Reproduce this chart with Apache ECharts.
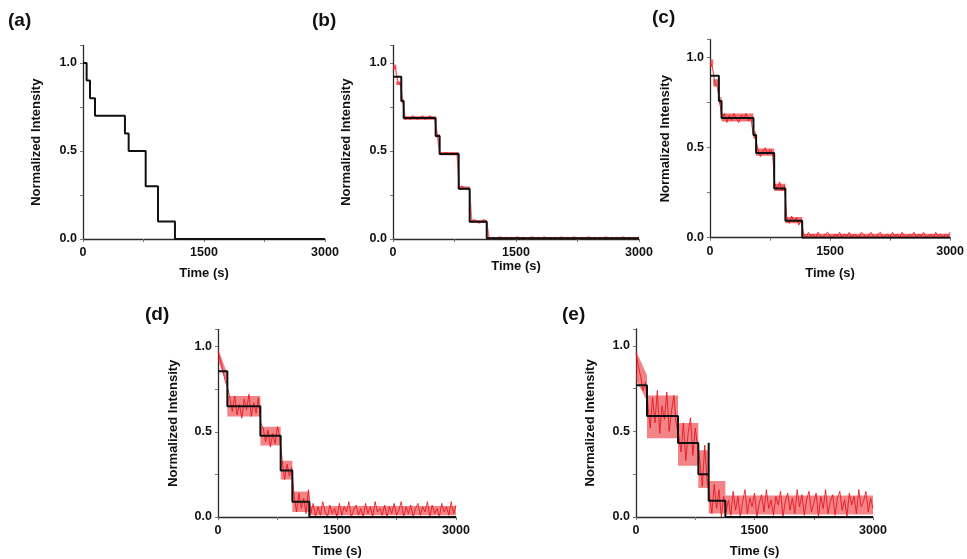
<!DOCTYPE html>
<html><head><meta charset="utf-8">
<script src="https://cdn.jsdelivr.net/npm/echarts@6/dist/echarts.min.js"></script>
<style>html,body{margin:0;padding:0;background:#fff}#c{width:967px;height:559px}</style>
</head><body><div id="c"></div>
<script>
// ---- data ----
const panelLabels = ['(a)', '(b)', '(c)', '(d)', '(e)'];
const xTickLabels = ['0', '1500', '3000'];
const yTickLabels = ['0.0', '0.5', '1.0'];
const xAxisTitle = 'Time (s)';
const yAxisTitle = 'Normalized Intensity';

const sampleTimes = [0,30,60,90,120,150,180,210,240,270,300,330,360,390,420,450,480,510,540,570,600,630,660,690,720,750,780,810,840,870,900,930,960,990,1020,1050,1080,1110,1140,1170,1200,1230,1260,1290,1320,1350,1380,1410,1440,1470,1500,1530,1560,1590,1620,1650,1680,1710,1740,1770,1800,1830,1860,1890,1920,1950,1980,2010,2040,2070,2100,2130,2160,2190,2220,2250,2280,2310,2340,2370,2400,2430,2460,2490,2520,2550,2580,2610,2640,2670,2700,2730,2760,2790,2820,2850,2880,2910,2940,2970,3000];

const traceB = [0.98,0.97,0.89,0.88,0.78,0.68,0.69,0.68,0.70,0.69,0.68,0.69,0.70,0.68,0.69,0.70,0.69,0.68,0.59,0.49,0.48,0.49,0.49,0.48,0.49,0.48,0.49,0.29,0.30,0.29,0.28,0.29,0.10,0.11,0.10,0.09,0.10,0.11,0.10,
0.01,0.00,0.01,0.00,0.01,0.01,0.00,0.01,0.00,0.01,0.00,0.01,0.01,0.00,0.01,0.00,0.00,0.01,0.01,0.00,0.01,0.00,0.01,0.01,0.00,0.01,0.00,0.01,0.00,0.01,0.01,0.00,0.01,0.00,0.01,0.01,0.00,0.00,0.01,0.00,0.01,0.01,0.00,0.01,0.00,0.01,0.00,0.01,0.01,0.00,0.01,0.00,0.01,0.00,0.01,0.01,0.00,0.01,0.00,0.01,0.00,0.01];

const traceC = [0.97,0.95,0.86,0.84,0.76,0.66,0.69,0.64,0.68,0.65,0.69,0.66,0.64,0.68,0.66,0.69,0.65,0.67,0.57,0.55,0.49,0.45,0.48,0.50,0.46,0.49,0.47,0.30,0.27,0.31,0.26,0.29,0.11,0.08,0.12,0.09,0.11,0.07,0.10,
0.02,0.00,0.03,0.01,0.02,0.00,0.03,0.01,0.00,0.02,0.03,0.01,0.00,0.02,0.01,0.03,0.00,0.02,0.01,0.03,0.00,0.02,0.01,0.00,0.03,0.02,0.00,0.01,0.03,0.01,0.00,0.02,0.03,0.00,0.01,0.02,0.00,0.03,0.01,0.02,0.00,0.03,0.01,0.00,0.02,0.01,0.03,0.00,0.02,0.01,0.03,0.00,0.01,0.02,0.00,0.03,0.01,0.02,0.00,0.02,0.01,0.03];

const traceD = [0.97,0.92,0.86,0.80,0.76,0.70,0.62,0.71,0.60,0.66,0.58,0.69,0.63,0.72,0.59,0.67,0.61,0.70,0.55,0.52,0.44,0.51,0.41,0.49,0.43,0.53,0.46,0.33,0.22,0.31,0.24,0.29,0.12,0.03,0.14,0.05,0.11,0.02,0.16,
0.02,0.08,0.00,0.06,0.01,0.09,0.03,0.00,0.07,0.02,0.05,0.00,0.08,0.01,0.06,0.03,0.09,0.00,0.04,0.07,0.01,0.05,0.00,0.08,0.02,0.06,0.00,0.09,0.03,0.05,0.01,0.07,0.00,0.06,0.02,0.08,0.01,0.04,0.09,0.00,0.06,0.02,0.07,0.00,0.05,0.08,0.01,0.06,0.03,0.09,0.00,0.07,0.02,0.05,0.00,0.08,0.03,0.06,0.01,0.09,0.02,0.07];

const traceE = [0.96,0.88,0.82,0.74,0.79,0.66,0.52,0.70,0.55,0.74,0.49,0.65,0.57,0.73,0.50,0.62,0.71,0.54,0.48,0.38,0.55,0.33,0.49,0.58,0.36,0.52,0.41,0.32,0.18,0.42,0.21,0.13,0.02,0.19,0.05,0.16,0.00,0.12,0.03,
0.10,0.01,0.15,0.04,0.12,0.00,0.09,0.16,0.02,0.11,0.06,0.14,0.00,0.08,0.13,0.03,0.16,0.05,0.10,0.01,0.12,0.07,0.15,0.00,0.09,0.14,0.04,0.11,0.02,0.16,0.06,0.13,0.01,0.10,0.15,0.03,0.08,0.14,0.00,0.12,0.05,0.16,0.02,0.09,0.13,0.01,0.11,0.15,0.04,0.10,0.00,0.14,0.07,0.12,0.02,0.16,0.06,0.09,0.15,0.03,0.11,0.05];

// dense core of the noisy red trace (lower / upper edge)
const envB_t = [0,40,40,101,101,130,130,520,520,569,569,801,801,935,935,1143,1143,3000];
const envB_lo = [0.965,0.965,0.875,0.875,0.775,0.775,0.678,0.678,0.578,0.578,0.476,0.476,0.278,0.278,0.092,0.092,0.0,0.0];
const envB_hi = [0.99,0.99,0.895,0.895,0.792,0.792,0.698,0.698,0.597,0.597,0.494,0.494,0.298,0.298,0.108,0.108,0.012,0.012];
const envC_t = [0,40,40,111,111,144,144,543,543,576,576,802,802,942,942,1152,1152,3000];
const envC_lo = [0.95,0.95,0.84,0.84,0.74,0.74,0.645,0.645,0.55,0.55,0.455,0.455,0.26,0.26,0.08,0.08,0.003,0.003];
const envC_hi = [0.99,0.99,0.88,0.88,0.78,0.78,0.69,0.69,0.59,0.59,0.495,0.495,0.30,0.30,0.115,0.115,0.022,0.022];
const envD_t = [0,118,118,534,534,790,790,937,937,1151,1151,3000];
const envD_lo = [0.92,0.77,0.59,0.59,0.42,0.42,0.22,0.22,0.03,0.03,0.01,0.01];
const envD_hi = [0.99,0.84,0.71,0.71,0.53,0.53,0.33,0.33,0.15,0.15,0.065,0.065];
const envE_t = [0,139,139,532,532,789,789,920,920,1131,1131,3000];
const envE_lo = [0.80,0.68,0.46,0.46,0.30,0.30,0.17,0.17,0.02,0.02,0.015,0.015];
const envE_hi = [0.97,0.83,0.71,0.71,0.55,0.55,0.39,0.39,0.21,0.21,0.125,0.125];

// step fits: time at which each level starts, and the level
const stepA_t = [0,45,87,149,520,566,777,930,1140,3000];
const stepA_y = [1.0,0.9,0.8,0.7,0.6,0.5,0.3,0.1,0,0];
const stepB_t = [0,101,130,520,569,801,935,1143,3000];
const stepB_y = [0.922,0.784,0.688,0.585,0.483,0.286,0.098,0.004,0.004];
const stepC_t = [0,111,144,543,576,802,942,1152,3000];
const stepC_y = [0.90,0.76,0.665,0.57,0.47,0.274,0.094,0,0];
const stepD_t = [0,118,534,790,937,1151,3000];
const stepD_y = [0.855,0.65,0.477,0.273,0.09,0,0];
const stepE_t = [0,139,532,789,920,920,1131,3000];
const stepE_y = [0.77,0.59,0.432,0.25,0.434,0.095,0,0];

// ---- layout / style ----
const FONT = '"Liberation Sans", Arial, Helvetica, sans-serif';
const panels = [
  {label: panelLabels[0], lx: 8, ly: 11, grid: {left: 83, top: 45.4, width: 242, height: 193.6}, gx: 28, gy: 40, trace: null, env: null, step: [stepA_t, stepA_y]},
  {label: panelLabels[1], lx: 312, ly: 11, grid: {left: 393, top: 45.4, width: 246, height: 193.6}, gx: 21, gy: 40, trace: traceB, tw: 1.5, tc: 'rgba(230,50,55,0.7)', env: [envB_t, envB_lo, envB_hi], ea: 0.7, step: [stepB_t, stepB_y]},
  {label: panelLabels[2], lx: 652, ly: 8, grid: {left: 710, top: 39.7, width: 243, height: 198}, gx: 29, gy: 38, trace: traceC, tw: 1, tc: 'rgba(228,20,28,0.85)', env: [envC_t, envC_lo, envC_hi], ea: 0.65, step: [stepC_t, stepC_y]},
  {label: panelLabels[3], lx: 145, ly: 305, grid: {left: 218, top: 329.5, width: 238, height: 189.2}, gx: 28, gy: 38, trace: traceD, tw: 1, tc: 'rgba(228,20,28,0.85)', env: [envD_t, envD_lo, envD_hi], ea: 0.55, step: [stepD_t, stepD_y]},
  {label: panelLabels[4], lx: 562, ly: 305, grid: {left: 636, top: 328.8, width: 237, height: 189.2}, gx: 28, gy: 39, trace: traceE, tw: 1, tc: 'rgba(228,20,28,0.85)', env: [envE_t, envE_lo, envE_hi], ea: 0.55, step: [stepE_t, stepE_y]}
];

const axisColor = '#2a2a2a';
const grids = [], xAxes = [], yAxes = [], series = [], graphics = [];
panels.forEach((p, i) => {
  grids.push(Object.assign({containLabel: false}, p.grid));
  xAxes.push({
    type: 'value', gridIndex: i, min: 0, max: 3000, interval: 750,
    name: xAxisTitle, nameLocation: 'middle', nameGap: p.gx,
    nameTextStyle: {fontFamily: FONT, fontWeight: 'bold', fontSize: 13, color: '#111'},
    axisLine: {show: true, onZero: false, lineStyle: {color: axisColor, width: 1.3}},
    axisTick: {show: true, length: 3, inside: false, lineStyle: {color: '#777', width: 1}},
    axisLabel: {margin: 7, fontFamily: FONT, fontWeight: 'bold', fontSize: 12.5, color: '#111',
      formatter: v => { const s = String(v); return xTickLabels.indexOf(s) >= 0 ? s : ''; }},
    splitLine: {show: false}
  });
  yAxes.push({
    type: 'value', gridIndex: i, min: 0, max: 1.1, interval: 0.25,
    name: yAxisTitle, nameLocation: 'middle', nameGap: p.gy, nameRotate: 90,
    nameTextStyle: {fontFamily: FONT, fontWeight: 'bold', fontSize: 13, color: '#111'},
    axisLine: {show: true, lineStyle: {color: axisColor, width: 1.3}},
    axisTick: {show: true, length: 3, inside: false, lineStyle: {color: '#777', width: 1}},
    axisLabel: {margin: 6, fontFamily: FONT, fontWeight: 'bold', fontSize: 12.5, color: '#111',
      formatter: v => { const s = v.toFixed(1); return (Math.abs(v * 2 - Math.round(v * 2)) < 1e-9 && yTickLabels.indexOf(s) >= 0) ? s : ''; }},
    splitLine: {show: false}
  });
  if (p.env) {
    const [et, lo, hi] = p.env;
    const alpha = p.ea;
    series.push({
      type: 'custom', xAxisIndex: i, yAxisIndex: i, silent: true, z: 1, animation: false,
      data: [[et[0], lo[0], hi[0]]],
      encode: {x: 0, y: 1},
      renderItem: (params, api) => {
        const pts = [];
        for (let k = 0; k < et.length; k++) pts.push(api.coord([et[k], lo[k]]));
        for (let k = et.length - 1; k >= 0; k--) pts.push(api.coord([et[k], hi[k]]));
        return {type: 'polygon', shape: {points: pts}, style: {fill: 'rgb(232,30,36)', opacity: alpha}};
      }
    });
  }
  if (p.trace) {
    series.push({
      type: 'line', xAxisIndex: i, yAxisIndex: i, showSymbol: false, silent: true,
      data: sampleTimes.map((t, k) => [t, p.trace[k]]),
      lineStyle: {color: p.tc, width: p.tw},
      z: 2, animation: false
    });
  }
  series.push({
    type: 'line', xAxisIndex: i, yAxisIndex: i, showSymbol: false, silent: true, step: 'end',
    data: p.step[0].map((t, k) => [t, p.step[1][k]]),
    lineStyle: {color: '#111', width: 2},
    z: 3, animation: false
  });
  graphics.push({type: 'text', left: p.lx, top: p.ly,
    style: {text: p.label, font: 'bold 19px ' + FONT, fill: '#111'}});
});

const chart = echarts.init(document.getElementById('c'), null, {renderer: 'canvas'});
chart.setOption({
  animation: false,
  backgroundColor: '#fff',
  grid: grids, xAxis: xAxes, yAxis: yAxes, series: series, graphic: graphics
});
</script></body></html>
